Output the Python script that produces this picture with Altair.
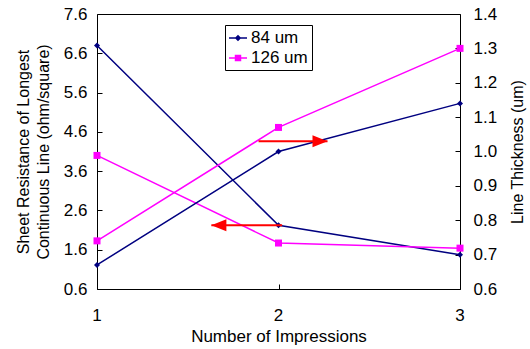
import altair as alt
import pandas as pd

# ---- data -------------------------------------------------------------
impressions = [1, 2, 3]
series_names = ["84 um", "126 um"]
series_colors = ["#000080", "#FF00FF"]
series_shapes = ["diamond", "square"]
series_sizes = [36, 49]

resistance_84 = [6.8, 2.22, 1.47]
resistance_126 = [4.0, 1.77, 1.64]
thickness_84 = [0.67, 1.00, 1.14]
thickness_126 = [0.74, 1.07, 1.30]

x_ticks = [1, 2, 3]
resistance_ticks = [0.6, 1.6, 2.6, 3.6, 4.6, 5.6, 6.6, 7.6]
thickness_ticks = [0.6, 0.7, 0.8, 0.9, 1.0, 1.1, 1.2, 1.3, 1.4]

# arrows telling which axis each pair of curves belongs to
resistance_arrow_y = [2.22]
resistance_arrow_start = [2.02]
resistance_arrow_end = [1.63]
thickness_arrow_y = [1.03]
thickness_arrow_start = [1.89]
thickness_arrow_end = [2.27]

FONT = "Liberation Sans"
RED = "#FF0000"
PLOT_W, PLOT_H = 363, 275

# custom symbols: arrow heads (tip at the anchor) and legend keys (line + marker)
HEAD_LEFT = "M0,0L2,-0.8L2,0.8Z"
HEAD_RIGHT = "M0,0L-2,-0.8L-2,0.8Z"
KEY_DIAMOND = "M-1,-0.07H1V0.07H-1ZM-0.36,0L0,-0.36L0.36,0L0,0.36Z"
KEY_SQUARE = "M-1,-0.07H1V0.07H-1ZM-0.36,-0.36H0.36V0.36H-0.36Z"


def long_table(values_a, values_b):
    return pd.DataFrame({
        "impressions": impressions * 2,
        "value": values_a + values_b,
        "series": [series_names[0]] * len(impressions) + [series_names[1]] * len(impressions),
    })


res_df = long_table(resistance_84, resistance_126)
thk_df = long_table(thickness_84, thickness_126)
x_tick_df = pd.DataFrame({"tick": x_ticks})

x_scale = alt.Scale(domain=[1, 3], nice=False, zero=False)
res_scale = alt.Scale(domain=[0.6, 7.6], nice=False, zero=False)
thk_scale = alt.Scale(domain=[0.6, 1.4], nice=False, zero=False)

# x axis draws the inward ticks and the title; its tick labels are a text layer
x_axis = alt.Axis(
    values=x_ticks, tickCount=len(x_ticks), labels=False, title="Number of Impressions",
    offset=-5, tickSize=5, domain=False, grid=False,
    titleY=44, titleBaseline="top", titleFontSize=17,
)
res_axis = alt.Axis(
    values=resistance_ticks, tickCount=len(resistance_ticks), format=".1f",
    title=["Sheet Resistance of Longest", "Continuous Line (ohm/square)"],
    orient="left", offset=-5, tickSize=5, domain=False, grid=False,
    labelPadding=10, titlePadding=12, titleLineHeight=20,
    labelFlush=False, labelOverlap=False, labelFontSize=17, titleFontSize=16,
)
thk_axis = alt.Axis(
    values=thickness_ticks, tickCount=len(thickness_ticks), format=".1f",
    title="Line Thickness (um)",
    orient="right", offset=-5, tickSize=5, domain=False, grid=False,
    labelPadding=13, titlePadding=13, titleAngle=270, titleBaseline="top",
    labelFlush=False, labelOverlap=False, labelFontSize=17, titleFontSize=16,
)


def panel(df, y_scale, y_axis, arrow_y, arrow_start, arrow_end, head, with_x_axis, with_legend):
    y_enc = alt.Y("value:Q", scale=y_scale, axis=y_axis)
    layers = []

    for i, (name, colour, shape, size) in enumerate(
            zip(series_names, series_colors, series_shapes, series_sizes)):
        # the shared x axis is declared once, on the very first line
        if with_x_axis and i == 0:
            x_line = alt.X("impressions:Q", scale=x_scale, axis=x_axis)
        else:
            x_line = alt.X("impressions:Q", scale=x_scale)
        x_enc = alt.X("impressions:Q", scale=x_scale)
        one = alt.Chart(df).transform_filter(alt.datum.series == name)
        layers.append(one.mark_line(color=colour, strokeWidth=1.5).encode(x=x_line, y=y_enc))
        layers.append(one.mark_point(
            shape=shape, filled=True, size=size, color=colour, opacity=1
        ).encode(x=x_enc, y=y_enc))

    arrow_df = pd.DataFrame({"y": arrow_y, "start": arrow_start, "end": arrow_end})
    layers.append(alt.Chart(arrow_df).mark_rule(color=RED, strokeWidth=2).encode(
        x=alt.X("start:Q", scale=x_scale),
        x2="end:Q",
        y=alt.Y("y:Q", scale=y_scale, axis=y_axis),
    ))
    layers.append(alt.Chart(arrow_df).mark_point(
        shape=head, filled=True, size=225, color=RED, opacity=1, strokeWidth=0
    ).encode(
        x=alt.X("end:Q", scale=x_scale),
        y=alt.Y("y:Q", scale=y_scale, axis=y_axis),
    ))

    if with_x_axis:
        # tick labels of the impressions axis, placed through the x scale
        layers.append(alt.Chart(x_tick_df).mark_text(
            font=FONT, fontSize=17, color="black", baseline="top", align="center"
        ).encode(
            x=alt.X("tick:Q", scale=x_scale),
            y=alt.value(PLOT_H + 19),
            text=alt.Text("tick:Q", format="d"),
        ))

    if with_legend:
        legend = alt.Legend(
            title=None, orient="none", legendX=128, legendY=11,
            strokeColor="black", fillColor="white", padding=4, cornerRadius=0,
            rowPadding=3, labelOffset=4, symbolSize=324, symbolOpacity=1,
            symbolStrokeWidth=0, labelFont=FONT, labelFontSize=17, labelColor="black",
        )
        # invisible marks that only carry the legend keys
        layers.append(alt.Chart(df).mark_point(filled=True, opacity=0).encode(
            x=alt.X("impressions:Q", scale=x_scale), y=y_enc,
            color=alt.Color("series:N", scale=alt.Scale(domain=series_names, range=series_colors),
                            legend=legend),
            shape=alt.Shape("series:N",
                            scale=alt.Scale(domain=series_names, range=[KEY_DIAMOND, KEY_SQUARE]),
                            legend=legend),
        ))

    return alt.layer(*layers)


left = panel(res_df, res_scale, res_axis, resistance_arrow_y, resistance_arrow_start,
             resistance_arrow_end, HEAD_LEFT, True, True)
right = panel(thk_df, thk_scale, thk_axis, thickness_arrow_y, thickness_arrow_start,
              thickness_arrow_end, HEAD_RIGHT, False, False)

chart = alt.layer(left, right).resolve_scale(y="independent").properties(
    width=PLOT_W, height=PLOT_H,
    autosize="none",
    padding={"left": 97, "top": 14, "right": 70, "bottom": 60},
    background="white",
).configure_view(
    stroke="black", strokeWidth=1,
).configure_axis(
    labelFont=FONT, titleFont=FONT,
    labelColor="black", titleColor="black", tickColor="black",
    titleFontWeight="normal", tickWidth=1, labelOverlap=False, labelFlush=False,
)

chart.save("out.html", embed_options={"renderer": "svg", "actions": False})
